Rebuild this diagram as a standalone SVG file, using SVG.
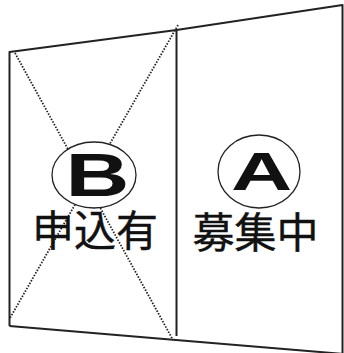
<svg xmlns="http://www.w3.org/2000/svg" width="344" height="353" viewBox="0 0 344 353">
<style>
.frame{fill:none;stroke:#222;stroke-width:2;stroke-linejoin:round}
.dot{fill:none;stroke:#222;stroke-width:1.8;stroke-dasharray:1.5 1.5}
.ring{fill:#fff;stroke:#222;stroke-width:1.3}
.lat{font-family:"Liberation Sans",Arial,sans-serif;font-weight:bold;fill:#111}
.cjk{font-family:"Liberation Sans","Noto Sans CJK JP",sans-serif;font-size:42px;fill:#111;text-anchor:middle;stroke:#111;stroke-width:0.4}
</style>
<rect width="344" height="353" fill="#fff"/>
<g id="connectors">
<line class="dot" x1="15" y1="53" x2="173" y2="340"/>
<line class="dot" x1="178" y1="25" x2="10" y2="318"/>
</g>
<g id="frame">
<polyline class="frame" points="9.5,326 9.5,52 176.5,30 342.5,5 342.5,353"/>
<polyline class="frame" points="9.5,326 176,340 344,354"/>
<line class="frame" x1="176.5" y1="30" x2="176.5" y2="336"/>
</g>
<g id="nodeB">
<ellipse class="ring" cx="94" cy="175" rx="42" ry="33"/>
<text class="lat" font-size="61" text-anchor="middle" transform="translate(97.5,195.5) scale(1.45,1)">B</text>
<text class="cjk" x="95" y="246">申込有</text>
</g>
<g id="nodeA">
<ellipse class="ring" cx="259" cy="171.5" rx="41" ry="36.5"/>
<text class="lat" font-size="53" text-anchor="middle" transform="translate(261.5,190) scale(1.6,1)">A</text>
<text class="cjk" x="255.5" y="248">募集中</text>
</g>
</svg>
